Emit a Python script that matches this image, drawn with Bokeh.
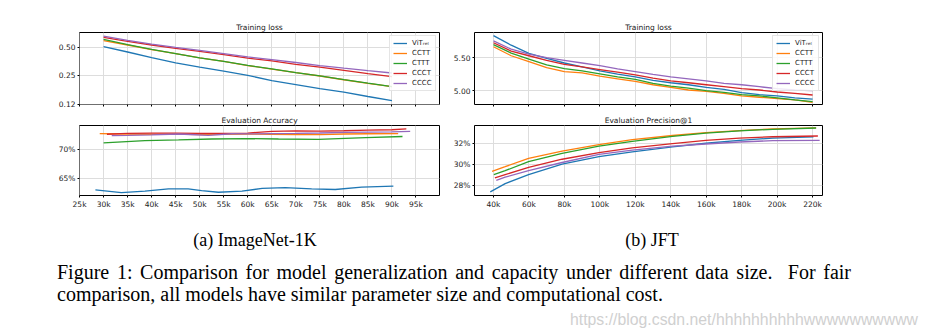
from bokeh.plotting import figure
from bokeh.layouts import column, row
from bokeh.models import NumeralTickFormatter, PrintfTickFormatter, Range1d, Div
from bokeh.embed import file_html
from bokeh.resources import INLINE

# ---------------- data ----------------
series_names = ["ViTᵣₑₗ", "CCTT", "CTTT", "CCCT", "CCCC"]
series_colors = ["#1f77b4", "#ff7f0e", "#2ca02c", "#d62728", "#9467bd"]

# (a) ImageNet-1K : training loss (x in thousands)
in_loss_x = [30, 35, 40, 45, 50, 55, 60, 65, 70, 75, 80, 85, 90]
in_loss_vit = [0.508, 0.445, 0.387, 0.339, 0.305, 0.276, 0.248, 0.217, 0.197, 0.178, 0.163, 0.146, 0.132]
in_loss_cctt = [0.592, 0.530, 0.472, 0.427, 0.384, 0.351, 0.317, 0.290, 0.265, 0.244, 0.222, 0.203, 0.187]
in_loss_cttt = [0.609, 0.536, 0.474, 0.428, 0.385, 0.352, 0.318, 0.291, 0.266, 0.245, 0.223, 0.204, 0.187]
in_loss_ccct = [0.640, 0.580, 0.530, 0.488, 0.453, 0.417, 0.381, 0.356, 0.326, 0.305, 0.281, 0.259, 0.240]
in_loss_cccc = [0.662, 0.595, 0.543, 0.500, 0.464, 0.427, 0.393, 0.368, 0.342, 0.317, 0.297, 0.279, 0.263]

# (a) ImageNet-1K : evaluation accuracy (%)
in_acc_vit_x = [28.3, 33.7, 38.6, 43.5, 47.6, 50.4, 53.9, 58.8, 63.0, 67.8, 73.3, 78.2, 83.7, 90.3]
in_acc_vit = [62.93, 62.47, 62.70, 63.10, 63.10, 62.80, 62.52, 62.70, 63.20, 63.33, 63.10, 63.00, 63.40, 63.60]
in_acc_cctt_x = [29.2, 35, 40, 45, 50, 55, 60, 65, 70, 75, 80, 85, 91.3]
in_acc_cctt = [72.76, 72.70, 72.65, 72.68, 72.62, 72.66, 72.70, 72.65, 72.62, 72.60, 72.70, 72.75, 72.76]
in_acc_cttt_x = [30.0, 38.6, 45.6, 52.5, 59.5, 66.4, 74.7, 84.5, 92.2]
in_acc_cttt = [71.14, 71.55, 71.66, 71.83, 71.90, 71.83, 71.78, 72.07, 72.27]
in_acc_ccct_x = [30.7, 35, 40, 45, 50, 55, 60, 65, 70, 75, 80, 85, 90, 93.0]
in_acc_ccct = [72.66, 72.82, 72.87, 72.85, 72.80, 72.82, 72.87, 73.18, 73.25, 73.22, 73.27, 73.38, 73.45, 73.60]
in_acc_cccc_x = [31.7, 35, 40, 45.6, 48, 51.8, 56.7, 60, 65, 69.9, 75, 80.3, 85, 90, 93.8]
in_acc_cccc = [72.41, 72.45, 72.55, 72.70, 72.62, 72.45, 72.75, 72.72, 72.78, 72.80, 72.88, 72.98, 73.03, 73.08, 73.15]

# (b) JFT : training loss
jft_loss_x = [40, 50, 60, 70, 80, 90, 100, 110, 120, 130, 140, 150, 160, 170, 180, 190, 200, 210, 220]
jft_loss_vit = [5.835, 5.69, 5.565, 5.49, 5.42, 5.36, 5.30, 5.25, 5.21, 5.155, 5.12, 5.09, 5.05, 5.02, 4.97, 4.94, 4.92, 4.89, 4.873]
jft_loss_cctt = [5.667, 5.53, 5.44, 5.35, 5.29, 5.27, 5.22, 5.18, 5.14, 5.09, 5.05, 5.01, 4.99, 4.96, 4.92, 4.90, 4.88, 4.86, 4.823]
jft_loss_cttt = [5.70, 5.57, 5.48, 5.39, 5.335, 5.30, 5.255, 5.21, 5.17, 5.11, 5.07, 5.04, 5.00, 4.975, 4.94, 4.92, 4.89, 4.86, 4.835]
jft_loss_ccct = [5.727, 5.60, 5.53, 5.46, 5.40, 5.36, 5.32, 5.28, 5.24, 5.19, 5.15, 5.12, 5.09, 5.06, 5.03, 5.01, 4.98, 4.96, 4.934]
jft_loss_cccc = [5.757, 5.63, 5.555, 5.50, 5.46, 5.42, 5.38, 5.33, 5.29, 5.247, 5.21, 5.18, 5.15, 5.11, 5.09, 5.06, 5.03, 5.01, 5.00]

# (b) JFT : evaluation precision@1 (%)
jft_prec_vit_x = [38.2, 46.6, 59.8, 78.7, 99.5, 118.3, 141, 159.8, 178.7, 197.6, 220.5]
jft_prec_vit = [27.40, 28.19, 29.05, 30.05, 30.75, 31.22, 31.68, 32.03, 32.31, 32.52, 32.64]
jft_prec_cctt_x = [39.2, 46.6, 59.8, 78.7, 99.5, 118.3, 141, 159.8, 178.7, 197.6, 222]
jft_prec_cctt = [29.36, 29.80, 30.60, 31.28, 31.90, 32.37, 32.77, 33.05, 33.24, 33.40, 33.50]
jft_prec_cttt_x = [40.2, 46.6, 59.8, 78.7, 99.5, 118.3, 141, 159.8, 178.7, 197.6, 222]
jft_prec_cttt = [29.05, 29.42, 30.29, 31.07, 31.75, 32.21, 32.68, 32.99, 33.21, 33.36, 33.48]
jft_prec_ccct_x = [40.8, 46.6, 59.8, 78.7, 99.5, 118.3, 141, 159.8, 178.7, 197.6, 223]
jft_prec_ccct = [28.74, 29.05, 29.73, 30.51, 31.13, 31.59, 32.00, 32.31, 32.52, 32.65, 32.72]
jft_prec_cccc_x = [41.6, 46.6, 59.8, 78.7, 99.5, 118.3, 141, 159.8, 178.7, 197.6, 224]
jft_prec_cccc = [28.49, 28.80, 29.42, 30.20, 30.98, 31.38, 31.75, 31.96, 32.15, 32.28, 32.31]

# ticks
in_x_ticks = [25, 30, 35, 40, 45, 50, 55, 60, 65, 70, 75, 80, 85, 90, 95]
in_loss_ticks = [0.12, 0.25, 0.5]
in_acc_ticks = [65, 70]
jft_x_ticks = [40, 60, 80, 100, 120, 140, 160, 180, 200, 220]
jft_loss_ticks = [5.0, 5.5]
jft_prec_ticks = [28, 30, 32]

FONT = "DejaVu Sans"
TXT = "#222222"


def make_fig(title, width, height, bl, br, bt, bb, xr, yr, y_type="linear"):
    p = figure(width=width, height=height, output_backend="svg", toolbar_location=None,
               x_range=Range1d(*xr), y_range=Range1d(*yr), y_axis_type=y_type,
               min_border_left=bl, min_border_right=br, min_border_top=bt, min_border_bottom=bb,
               title=title)
    p.outline_line_color = "#000000"
    p.outline_line_width = 1
    p.outline_line_alpha = 1
    p.background_fill_color = "white"
    p.border_fill_color = "white"
    for ax in (p.xaxis[0], p.yaxis[0]):
        ax.axis_line_color = None
        ax.major_tick_line_color = "#000000"
        ax.major_tick_out = 2
        ax.major_tick_in = 0
        ax.minor_tick_line_color = None
        ax.major_label_text_font = FONT
        ax.major_label_text_font_size = "7.5px"
        ax.major_label_text_color = TXT
        ax.major_label_standoff = 2
    p.grid.grid_line_color = "#dddddd"
    p.grid.grid_line_width = 1
    p.title.align = "center"
    p.title.text_font = FONT
    p.title.text_font_size = "7.5px"
    p.title.text_font_style = "normal"
    p.title.text_color = TXT
    p.title.standoff = 2
    return p


def hide_x_labels(p):
    # keep tick marks, but draw no tick labels (shared x axis with the panel below)
    p.xaxis.major_label_text_color = None
    p.xaxis.major_label_text_font_size = "1px"
    p.xaxis.major_label_standoff = 0


def style_legend(p):
    lg = p.legend[0]
    lg.location = "top_right"
    lg.margin = 3
    lg.padding = 3
    lg.spacing = 2
    lg.glyph_width = 14
    lg.glyph_height = 8
    lg.label_height = 8
    lg.label_standoff = 5
    lg.label_text_font = FONT
    lg.label_text_font_size = "7px"
    lg.label_text_color = TXT
    lg.border_line_color = "#cccccc"
    lg.border_line_width = 1
    lg.background_fill_alpha = 0.85


LW = 1.3

# ---- (a) top: training loss (log scale)
tl = make_fig("Training loss", 440, 112, 79, 1, 32, 8, (24.99, 99.9), (0.1195, 0.725), "log")
tl.xaxis.ticker = in_x_ticks
hide_x_labels(tl)
tl.yaxis.ticker = in_loss_ticks
tl.yaxis.formatter = NumeralTickFormatter(format="0.00")
for ys, name, col in zip([in_loss_vit, in_loss_cctt, in_loss_cttt, in_loss_ccct, in_loss_cccc],
                         series_names, series_colors):
    tl.line(in_loss_x, ys, color=col, line_width=LW, legend_label=name)
style_legend(tl)

# ---- (a) bottom: evaluation accuracy
bl = make_fig("Evaluation Accuracy", 440, 103, 79, 1, 12, 20, (24.99, 99.9), (61.95, 74.19))
bl.xaxis.ticker = in_x_ticks
bl.xaxis.formatter = PrintfTickFormatter(format="%dk")
bl.yaxis.ticker = in_acc_ticks
bl.yaxis.formatter = PrintfTickFormatter(format="%d%%")
for xs, ys, col in zip([in_acc_vit_x, in_acc_cctt_x, in_acc_cttt_x, in_acc_ccct_x, in_acc_cccc_x],
                       [in_acc_vit, in_acc_cctt, in_acc_cttt, in_acc_ccct, in_acc_cccc], series_colors):
    bl.line(xs, ys, color=col, line_width=LW)

# ---- (b) top: training loss
tr = make_fig("Training loss", 486, 112, 34, 104, 32, 8, (29.3, 225.6), (4.79, 5.883))
tr.xaxis.ticker = jft_x_ticks
hide_x_labels(tr)
tr.yaxis.ticker = jft_loss_ticks
tr.yaxis.formatter = NumeralTickFormatter(format="0.00")
for ys, name, col in zip([jft_loss_vit, jft_loss_cctt, jft_loss_cttt, jft_loss_ccct, jft_loss_cccc],
                         series_names, series_colors):
    tr.line(jft_loss_x, ys, color=col, line_width=LW, legend_label=name)
style_legend(tr)

# ---- (b) bottom: evaluation precision@1
br = make_fig("Evaluation Precision@1", 486, 103, 34, 104, 12, 20, (29.3, 225.6), (27.06, 33.72))
br.xaxis.ticker = jft_x_ticks
br.xaxis.formatter = PrintfTickFormatter(format="%dk")
br.yaxis.ticker = jft_prec_ticks
br.yaxis.formatter = PrintfTickFormatter(format="%d%%")
for xs, ys, col in zip([jft_prec_vit_x, jft_prec_cctt_x, jft_prec_cttt_x, jft_prec_ccct_x, jft_prec_cccc_x],
                       [jft_prec_vit, jft_prec_cctt, jft_prec_cttt, jft_prec_ccct, jft_prec_cccc], series_colors):
    br.line(xs, ys, color=col, line_width=LW)

# ---- captions
cap_html = (
    '<div style="position:relative;width:926px;height:118px;font-family:\'Liberation Serif\',serif;color:#000;">'
    '<div style="position:absolute;left:130px;width:240px;top:11px;text-align:center;font-size:18px;line-height:1;white-space:nowrap;">(a) ImageNet-1K</div>'
    '<div style="position:absolute;left:527px;width:240px;top:11px;text-align:center;font-size:18px;line-height:1;white-space:nowrap;">(b) JFT</div>'
    '<div style="position:absolute;left:52px;width:794px;top:42px;font-size:20px;line-height:1;text-align:justify;text-align-last:justify;white-space:nowrap;">'
    'Figure 1: Comparison for model generalization and capacity under different data size.&nbsp; For fair</div>'
    '<div style="position:absolute;left:52px;top:64px;font-size:20px;line-height:1;white-space:nowrap;">'
    'comparison, all models have similar parameter size and computational cost.</div>'
    '<div style="position:absolute;left:565px;top:91px;font-family:\'Liberation Sans\',sans-serif;font-size:17px;line-height:1;color:#d0d0d0;white-space:nowrap;transform:scaleX(0.93);transform-origin:left center;">'
    'https://blog.csdn.net/hhhhhhhhhhwwwwwwwwww</div>'
    '</div>'
)
caption = Div(text=cap_html, width=926, height=118)

layout = column(row(tl, tr), row(bl, br), caption)

open("out.html", "w").write(file_html(layout, INLINE))
